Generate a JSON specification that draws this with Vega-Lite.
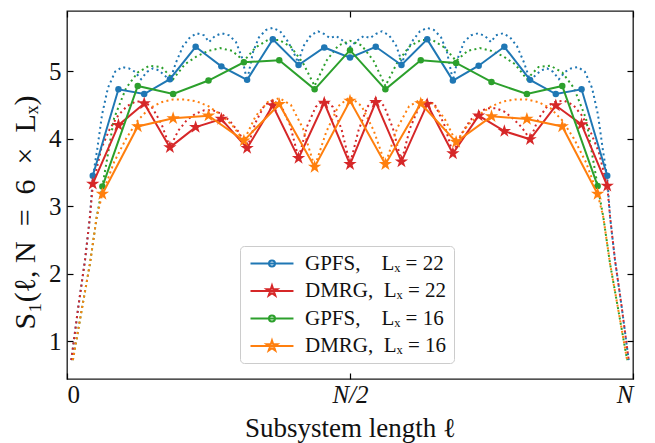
{
  "$schema": "https://vega.github.io/schema/vega-lite/v6.json",
  "width": 566,
  "height": 368,
  "autosize": "none",
  "padding": {"left": 67, "top": 11, "right": 22, "bottom": 64},
  "config": {
    "view": {"stroke": "#1a1a1a", "strokeWidth": 1.3},
    "font": "Liberation Serif",
    "axis": {
      "grid": false, "domain": false, "tickColor": "#000", "tickWidth": 1.2, "tickSize": -6,
      "labelFont": "Liberation Serif", "labelFontSize": 25, "labelColor": "#111",
      "titleFont": "Liberation Serif", "titleFontSize": 27, "titleFontWeight": "normal", "titleColor": "#111"
    }
  },
  "datasets": {
    "pts": [
      {"s": "g22", "x": 0.0455, "y": 3.45}, {"s": "g22", "x": 0.0909, "y": 4.73}, {"s": "g22", "x": 0.1364, "y": 4.66},
      {"s": "g22", "x": 0.1818, "y": 4.88}, {"s": "g22", "x": 0.2273, "y": 5.36}, {"s": "g22", "x": 0.2727, "y": 5.07},
      {"s": "g22", "x": 0.3182, "y": 4.87}, {"s": "g22", "x": 0.3636, "y": 5.47}, {"s": "g22", "x": 0.4091, "y": 5.09},
      {"s": "g22", "x": 0.4545, "y": 5.35}, {"s": "g22", "x": 0.5, "y": 5.2}, {"s": "g22", "x": 0.5455, "y": 5.36},
      {"s": "g22", "x": 0.5909, "y": 5.09}, {"s": "g22", "x": 0.6364, "y": 5.47}, {"s": "g22", "x": 0.6818, "y": 4.86},
      {"s": "g22", "x": 0.7273, "y": 5.08}, {"s": "g22", "x": 0.7727, "y": 5.36}, {"s": "g22", "x": 0.8182, "y": 4.87},
      {"s": "g22", "x": 0.8636, "y": 4.66}, {"s": "g22", "x": 0.9091, "y": 4.73}, {"s": "g22", "x": 0.9545, "y": 3.45},
      {"s": "d22", "x": 0.0455, "y": 3.33}, {"s": "d22", "x": 0.0909, "y": 4.2}, {"s": "d22", "x": 0.1364, "y": 4.52},
      {"s": "d22", "x": 0.1818, "y": 3.87}, {"s": "d22", "x": 0.2273, "y": 4.17}, {"s": "d22", "x": 0.2727, "y": 4.29},
      {"s": "d22", "x": 0.3182, "y": 3.86}, {"s": "d22", "x": 0.3636, "y": 4.49}, {"s": "d22", "x": 0.4091, "y": 3.71},
      {"s": "d22", "x": 0.4545, "y": 4.53}, {"s": "d22", "x": 0.5, "y": 3.62}, {"s": "d22", "x": 0.5455, "y": 4.54},
      {"s": "d22", "x": 0.5909, "y": 3.66}, {"s": "d22", "x": 0.6364, "y": 4.51}, {"s": "d22", "x": 0.6818, "y": 3.78},
      {"s": "d22", "x": 0.7273, "y": 4.34}, {"s": "d22", "x": 0.7727, "y": 4.11}, {"s": "d22", "x": 0.8182, "y": 3.99},
      {"s": "d22", "x": 0.8636, "y": 4.49}, {"s": "d22", "x": 0.9091, "y": 4.21}, {"s": "d22", "x": 0.9545, "y": 3.3},
      {"s": "g16", "x": 0.0625, "y": 3.29}, {"s": "g16", "x": 0.125, "y": 4.78}, {"s": "g16", "x": 0.1875, "y": 4.66},
      {"s": "g16", "x": 0.25, "y": 4.86}, {"s": "g16", "x": 0.3125, "y": 5.13}, {"s": "g16", "x": 0.375, "y": 5.16},
      {"s": "g16", "x": 0.4375, "y": 4.73}, {"s": "g16", "x": 0.5, "y": 5.31}, {"s": "g16", "x": 0.5625, "y": 4.73},
      {"s": "g16", "x": 0.625, "y": 5.16}, {"s": "g16", "x": 0.6875, "y": 5.12}, {"s": "g16", "x": 0.75, "y": 4.84},
      {"s": "g16", "x": 0.8125, "y": 4.66}, {"s": "g16", "x": 0.875, "y": 4.78}, {"s": "g16", "x": 0.9375, "y": 3.3},
      {"s": "d16", "x": 0.0625, "y": 3.18}, {"s": "d16", "x": 0.125, "y": 4.18}, {"s": "d16", "x": 0.1875, "y": 4.3},
      {"s": "d16", "x": 0.25, "y": 4.34}, {"s": "d16", "x": 0.3125, "y": 3.97}, {"s": "d16", "x": 0.375, "y": 4.51},
      {"s": "d16", "x": 0.4375, "y": 3.58}, {"s": "d16", "x": 0.5, "y": 4.56}, {"s": "d16", "x": 0.5625, "y": 3.62},
      {"s": "d16", "x": 0.625, "y": 4.52}, {"s": "d16", "x": 0.6875, "y": 3.95}, {"s": "d16", "x": 0.75, "y": 4.33},
      {"s": "d16", "x": 0.8125, "y": 4.29}, {"s": "d16", "x": 0.875, "y": 4.18}, {"s": "d16", "x": 0.9375, "y": 3.18}
    ],
    "fit": [
      {"s": "g22", "x": 0.0076, "y": 0.72}, {"s": "g22", "x": 0.02, "y": 1.51}, {"s": "g22", "x": 0.0318, "y": 2.2}, {"s": "g22", "x": 0.0405, "y": 2.84},
      {"s": "g22", "x": 0.0455, "y": 3.42}, {"s": "g22", "x": 0.0532, "y": 3.83}, {"s": "g22", "x": 0.0618, "y": 4.35}, {"s": "g22", "x": 0.0723, "y": 4.75},
      {"s": "g22", "x": 0.085, "y": 4.99}, {"s": "g22", "x": 0.0973, "y": 5.06}, {"s": "g22", "x": 0.1095, "y": 5.04}, {"s": "g22", "x": 0.12, "y": 4.99},
      {"s": "g22", "x": 0.1309, "y": 4.88}, {"s": "g22", "x": 0.1414, "y": 4.99}, {"s": "g22", "x": 0.1518, "y": 5.04}, {"s": "g22", "x": 0.1627, "y": 5.01},
      {"s": "g22", "x": 0.1732, "y": 4.93}, {"s": "g22", "x": 0.1818, "y": 4.86}, {"s": "g22", "x": 0.1927, "y": 5.13}, {"s": "g22", "x": 0.205, "y": 5.37},
      {"s": "g22", "x": 0.2173, "y": 5.5}, {"s": "g22", "x": 0.2295, "y": 5.56}, {"s": "g22", "x": 0.2423, "y": 5.53}, {"s": "g22", "x": 0.2509, "y": 5.43},
      {"s": "g22", "x": 0.2614, "y": 5.52}, {"s": "g22", "x": 0.2736, "y": 5.56}, {"s": "g22", "x": 0.2864, "y": 5.53}, {"s": "g22", "x": 0.2986, "y": 5.43},
      {"s": "g22", "x": 0.3091, "y": 5.2}, {"s": "g22", "x": 0.3182, "y": 4.86}, {"s": "g22", "x": 0.3286, "y": 5.28}, {"s": "g22", "x": 0.3391, "y": 5.5},
      {"s": "g22", "x": 0.3518, "y": 5.61}, {"s": "g22", "x": 0.3636, "y": 5.64}, {"s": "g22", "x": 0.3764, "y": 5.59}, {"s": "g22", "x": 0.3886, "y": 5.46},
      {"s": "g22", "x": 0.3991, "y": 5.3}, {"s": "g22", "x": 0.4082, "y": 5.13}, {"s": "g22", "x": 0.4186, "y": 5.38}, {"s": "g22", "x": 0.4309, "y": 5.53},
      {"s": "g22", "x": 0.4436, "y": 5.59}, {"s": "g22", "x": 0.4541, "y": 5.55}, {"s": "g22", "x": 0.4645, "y": 5.49}, {"s": "g22", "x": 0.4755, "y": 5.52},
      {"s": "g22", "x": 0.4859, "y": 5.46}, {"s": "g22", "x": 0.5, "y": 5.36}, {"s": "g22", "x": 0.5141, "y": 5.46}, {"s": "g22", "x": 0.5245, "y": 5.52},
      {"s": "g22", "x": 0.5355, "y": 5.49}, {"s": "g22", "x": 0.5459, "y": 5.55}, {"s": "g22", "x": 0.5564, "y": 5.59}, {"s": "g22", "x": 0.5691, "y": 5.53},
      {"s": "g22", "x": 0.5814, "y": 5.38}, {"s": "g22", "x": 0.5918, "y": 5.13}, {"s": "g22", "x": 0.6009, "y": 5.3}, {"s": "g22", "x": 0.6114, "y": 5.46},
      {"s": "g22", "x": 0.6236, "y": 5.59}, {"s": "g22", "x": 0.6364, "y": 5.64}, {"s": "g22", "x": 0.6482, "y": 5.61}, {"s": "g22", "x": 0.6609, "y": 5.5},
      {"s": "g22", "x": 0.6714, "y": 5.28}, {"s": "g22", "x": 0.6818, "y": 4.86}, {"s": "g22", "x": 0.6909, "y": 5.2}, {"s": "g22", "x": 0.7014, "y": 5.43},
      {"s": "g22", "x": 0.7136, "y": 5.53}, {"s": "g22", "x": 0.7264, "y": 5.56}, {"s": "g22", "x": 0.7386, "y": 5.52}, {"s": "g22", "x": 0.7491, "y": 5.43},
      {"s": "g22", "x": 0.7577, "y": 5.53}, {"s": "g22", "x": 0.7705, "y": 5.56}, {"s": "g22", "x": 0.7827, "y": 5.5}, {"s": "g22", "x": 0.795, "y": 5.37},
      {"s": "g22", "x": 0.8073, "y": 5.13}, {"s": "g22", "x": 0.8182, "y": 4.86}, {"s": "g22", "x": 0.8268, "y": 4.93}, {"s": "g22", "x": 0.8373, "y": 5.01},
      {"s": "g22", "x": 0.8482, "y": 5.04}, {"s": "g22", "x": 0.8586, "y": 4.99}, {"s": "g22", "x": 0.8691, "y": 4.88}, {"s": "g22", "x": 0.88, "y": 4.99},
      {"s": "g22", "x": 0.8905, "y": 5.04}, {"s": "g22", "x": 0.9027, "y": 5.06}, {"s": "g22", "x": 0.915, "y": 4.99}, {"s": "g22", "x": 0.9277, "y": 4.75},
      {"s": "g22", "x": 0.9382, "y": 4.35}, {"s": "g22", "x": 0.9468, "y": 3.83}, {"s": "g22", "x": 0.9545, "y": 3.42}, {"s": "g22", "x": 0.9595, "y": 2.84},
      {"s": "g22", "x": 0.9682, "y": 2.2}, {"s": "g22", "x": 0.98, "y": 1.51}, {"s": "g22", "x": 0.9924, "y": 0.72},

      {"s": "d22", "x": 0.0076, "y": 0.72}, {"s": "d22", "x": 0.02, "y": 1.51}, {"s": "d22", "x": 0.0318, "y": 2.2}, {"s": "d22", "x": 0.0405, "y": 2.84},
      {"s": "d22", "x": 0.0455, "y": 3.3}, {"s": "d22", "x": 0.0605, "y": 3.85}, {"s": "d22", "x": 0.0759, "y": 4.15}, {"s": "d22", "x": 0.0909, "y": 4.35},
      {"s": "d22", "x": 0.1059, "y": 4.48}, {"s": "d22", "x": 0.1214, "y": 4.55}, {"s": "d22", "x": 0.1364, "y": 4.55}, {"s": "d22", "x": 0.1514, "y": 4.45},
      {"s": "d22", "x": 0.1668, "y": 4.22}, {"s": "d22", "x": 0.1818, "y": 3.87}, {"s": "d22", "x": 0.1968, "y": 4.12}, {"s": "d22", "x": 0.2123, "y": 4.28},
      {"s": "d22", "x": 0.2273, "y": 4.37}, {"s": "d22", "x": 0.2423, "y": 4.42}, {"s": "d22", "x": 0.2577, "y": 4.42}, {"s": "d22", "x": 0.2727, "y": 4.37},
      {"s": "d22", "x": 0.2877, "y": 4.26}, {"s": "d22", "x": 0.3032, "y": 4.1}, {"s": "d22", "x": 0.3182, "y": 3.86}, {"s": "d22", "x": 0.3332, "y": 4.24},
      {"s": "d22", "x": 0.3486, "y": 4.49}, {"s": "d22", "x": 0.3636, "y": 4.57}, {"s": "d22", "x": 0.3786, "y": 4.48}, {"s": "d22", "x": 0.3941, "y": 4.2},
      {"s": "d22", "x": 0.4091, "y": 3.71}, {"s": "d22", "x": 0.4241, "y": 4.18}, {"s": "d22", "x": 0.4395, "y": 4.47}, {"s": "d22", "x": 0.4545, "y": 4.58},
      {"s": "d22", "x": 0.4695, "y": 4.47}, {"s": "d22", "x": 0.485, "y": 4.14}, {"s": "d22", "x": 0.5, "y": 3.62}, {"s": "d22", "x": 0.515, "y": 4.12},
      {"s": "d22", "x": 0.5305, "y": 4.47}, {"s": "d22", "x": 0.5455, "y": 4.6}, {"s": "d22", "x": 0.5605, "y": 4.48}, {"s": "d22", "x": 0.5759, "y": 4.15},
      {"s": "d22", "x": 0.5909, "y": 3.66}, {"s": "d22", "x": 0.6059, "y": 4.15}, {"s": "d22", "x": 0.6214, "y": 4.46}, {"s": "d22", "x": 0.6364, "y": 4.57},
      {"s": "d22", "x": 0.6514, "y": 4.48}, {"s": "d22", "x": 0.6668, "y": 4.2}, {"s": "d22", "x": 0.6818, "y": 3.78}, {"s": "d22", "x": 0.6968, "y": 4.07},
      {"s": "d22", "x": 0.7123, "y": 4.27}, {"s": "d22", "x": 0.7273, "y": 4.39}, {"s": "d22", "x": 0.7423, "y": 4.45}, {"s": "d22", "x": 0.7577, "y": 4.45},
      {"s": "d22", "x": 0.7727, "y": 4.4}, {"s": "d22", "x": 0.7877, "y": 4.3}, {"s": "d22", "x": 0.8032, "y": 4.17}, {"s": "d22", "x": 0.8182, "y": 3.99},
      {"s": "d22", "x": 0.8332, "y": 4.3}, {"s": "d22", "x": 0.8486, "y": 4.48}, {"s": "d22", "x": 0.8636, "y": 4.55}, {"s": "d22", "x": 0.8786, "y": 4.56},
      {"s": "d22", "x": 0.8941, "y": 4.5}, {"s": "d22", "x": 0.9091, "y": 4.35}, {"s": "d22", "x": 0.9241, "y": 4.12}, {"s": "d22", "x": 0.9395, "y": 3.8},
      {"s": "d22", "x": 0.9545, "y": 3.3}, {"s": "d22", "x": 0.9595, "y": 2.84}, {"s": "d22", "x": 0.9682, "y": 2.2}, {"s": "d22", "x": 0.98, "y": 1.51},
      {"s": "d22", "x": 0.9924, "y": 0.72},

      {"s": "g16", "x": 0.0104, "y": 0.72}, {"s": "g16", "x": 0.0259, "y": 1.46}, {"s": "g16", "x": 0.0406, "y": 2.15}, {"s": "g16", "x": 0.0525, "y": 2.84},
      {"s": "g16", "x": 0.0625, "y": 3.29}, {"s": "g16", "x": 0.0831, "y": 4.3}, {"s": "g16", "x": 0.1044, "y": 4.75}, {"s": "g16", "x": 0.125, "y": 4.98},
      {"s": "g16", "x": 0.1456, "y": 5.08}, {"s": "g16", "x": 0.1669, "y": 5.06}, {"s": "g16", "x": 0.1875, "y": 4.88}, {"s": "g16", "x": 0.2081, "y": 5.1},
      {"s": "g16", "x": 0.2294, "y": 5.22}, {"s": "g16", "x": 0.25, "y": 5.3}, {"s": "g16", "x": 0.2706, "y": 5.34}, {"s": "g16", "x": 0.2919, "y": 5.3},
      {"s": "g16", "x": 0.3125, "y": 5.15}, {"s": "g16", "x": 0.3331, "y": 5.35}, {"s": "g16", "x": 0.3544, "y": 5.46}, {"s": "g16", "x": 0.375, "y": 5.46},
      {"s": "g16", "x": 0.3956, "y": 5.36}, {"s": "g16", "x": 0.4169, "y": 5.12}, {"s": "g16", "x": 0.4375, "y": 4.78}, {"s": "g16", "x": 0.4581, "y": 5.15},
      {"s": "g16", "x": 0.4794, "y": 5.38}, {"s": "g16", "x": 0.5, "y": 5.45}, {"s": "g16", "x": 0.5206, "y": 5.38}, {"s": "g16", "x": 0.5419, "y": 5.15},
      {"s": "g16", "x": 0.5625, "y": 4.78}, {"s": "g16", "x": 0.5831, "y": 5.12}, {"s": "g16", "x": 0.6044, "y": 5.36}, {"s": "g16", "x": 0.625, "y": 5.46},
      {"s": "g16", "x": 0.6456, "y": 5.46}, {"s": "g16", "x": 0.6669, "y": 5.35}, {"s": "g16", "x": 0.6875, "y": 5.15}, {"s": "g16", "x": 0.7081, "y": 5.3},
      {"s": "g16", "x": 0.7294, "y": 5.34}, {"s": "g16", "x": 0.75, "y": 5.3}, {"s": "g16", "x": 0.7706, "y": 5.22}, {"s": "g16", "x": 0.7919, "y": 5.1},
      {"s": "g16", "x": 0.8125, "y": 4.88}, {"s": "g16", "x": 0.8331, "y": 5.06}, {"s": "g16", "x": 0.8544, "y": 5.08}, {"s": "g16", "x": 0.875, "y": 4.98},
      {"s": "g16", "x": 0.8956, "y": 4.75}, {"s": "g16", "x": 0.9169, "y": 4.3}, {"s": "g16", "x": 0.9375, "y": 3.3}, {"s": "g16", "x": 0.9475, "y": 2.84},
      {"s": "g16", "x": 0.9594, "y": 2.15}, {"s": "g16", "x": 0.9741, "y": 1.46}, {"s": "g16", "x": 0.9896, "y": 0.72},

      {"s": "d16", "x": 0.0104, "y": 0.72}, {"s": "d16", "x": 0.0259, "y": 1.46}, {"s": "d16", "x": 0.0406, "y": 2.15}, {"s": "d16", "x": 0.0525, "y": 2.84},
      {"s": "d16", "x": 0.0625, "y": 3.18}, {"s": "d16", "x": 0.0831, "y": 3.65}, {"s": "d16", "x": 0.1044, "y": 4.0}, {"s": "d16", "x": 0.125, "y": 4.27},
      {"s": "d16", "x": 0.1456, "y": 4.45}, {"s": "d16", "x": 0.1669, "y": 4.54}, {"s": "d16", "x": 0.1875, "y": 4.58}, {"s": "d16", "x": 0.2081, "y": 4.58},
      {"s": "d16", "x": 0.2294, "y": 4.55}, {"s": "d16", "x": 0.25, "y": 4.48}, {"s": "d16", "x": 0.2706, "y": 4.36}, {"s": "d16", "x": 0.2919, "y": 4.2},
      {"s": "d16", "x": 0.3125, "y": 3.97}, {"s": "d16", "x": 0.3331, "y": 4.33}, {"s": "d16", "x": 0.3544, "y": 4.54}, {"s": "d16", "x": 0.375, "y": 4.6},
      {"s": "d16", "x": 0.3956, "y": 4.5}, {"s": "d16", "x": 0.4169, "y": 4.15}, {"s": "d16", "x": 0.4375, "y": 3.58}, {"s": "d16", "x": 0.4581, "y": 4.1},
      {"s": "d16", "x": 0.4794, "y": 4.48}, {"s": "d16", "x": 0.5, "y": 4.62}, {"s": "d16", "x": 0.5206, "y": 4.48}, {"s": "d16", "x": 0.5419, "y": 4.12},
      {"s": "d16", "x": 0.5625, "y": 3.62}, {"s": "d16", "x": 0.5831, "y": 4.15}, {"s": "d16", "x": 0.6044, "y": 4.48}, {"s": "d16", "x": 0.625, "y": 4.58},
      {"s": "d16", "x": 0.6456, "y": 4.52}, {"s": "d16", "x": 0.6669, "y": 4.3}, {"s": "d16", "x": 0.6875, "y": 3.95}, {"s": "d16", "x": 0.7081, "y": 4.2},
      {"s": "d16", "x": 0.7294, "y": 4.36}, {"s": "d16", "x": 0.75, "y": 4.48}, {"s": "d16", "x": 0.7706, "y": 4.55}, {"s": "d16", "x": 0.7919, "y": 4.58},
      {"s": "d16", "x": 0.8125, "y": 4.58}, {"s": "d16", "x": 0.8331, "y": 4.54}, {"s": "d16", "x": 0.8544, "y": 4.45}, {"s": "d16", "x": 0.875, "y": 4.27},
      {"s": "d16", "x": 0.8956, "y": 4.0}, {"s": "d16", "x": 0.9169, "y": 3.65}, {"s": "d16", "x": 0.9375, "y": 3.18}, {"s": "d16", "x": 0.9475, "y": 2.84},
      {"s": "d16", "x": 0.9594, "y": 2.15}, {"s": "d16", "x": 0.9741, "y": 1.46}, {"s": "d16", "x": 0.9896, "y": 0.72}
    ]
  },
  "encoding": {
    "x": {"field": "x", "type": "quantitative", "scale": {"domain": [0, 1], "nice": false, "zero": false}, "axis": null},
    "y": {"field": "y", "type": "quantitative", "scale": {"domain": [0.44, 5.89], "nice": false, "zero": false}, "axis": null}
  },
  "layer": [
    {
      "data": {"name": "pts"},
      "transform": [{"filter": "false"}],
      "mark": {"type": "point", "opacity": 0},
      "encoding": {
        "x": {"field": "x", "type": "quantitative", "scale": {"domain": [0, 1], "nice": false, "zero": false},
          "axis": {"orient": "bottom", "values": [0, 0.5, 1], "labelExpr": "datum.value == 0 ? '0' : datum.value == 0.5 ? 'N/2' : 'N'",
            "labelFontStyle": {"condition": {"test": "datum.value == 0", "value": "normal"}, "value": "italic"},
            "labelPadding": 9, "title": "Subsystem length ℓ", "titlePadding": 8}},
        "y": {"field": "y", "type": "quantitative", "scale": {"domain": [0.44, 5.89], "nice": false, "zero": false},
          "axis": {"orient": "left", "values": [1, 2, 3, 4, 5], "labelPadding": 12, "title": "S₁(ℓ, N\u2002=\u20026\u2002×\u2002Lₓ)", "titleFontSize": 30, "titlePadding": 8, "titleY": 201}},
        "fill": {"field": "s", "type": "nominal", "scale": {"domain": ["g22", "d22", "g16", "d16"], "range": ["#1f77b4", "#d62728", "#2ca02c", "#ff7f0e"]},
          "legend": {"orient": "none", "legendX": 173, "legendY": 235, "title": null, "symbolSize": 196, "symbolStrokeWidth": 2,
            "labelFontSize": 21, "labelFont": "Liberation Serif", "labelColor": "#111", "labelOffset": 37, "rowPadding": 5.5, "padding": 7,
            "strokeColor": "#cccccc", "cornerRadius": 4, "fillColor": "rgba(255,255,255,0.85)",
            "labelExpr": "datum.value == 'g22' ? 'GPFS,\u2003Lₓ = 22' : datum.value == 'd22' ? 'DMRG,\u2002Lₓ = 22' : datum.value == 'g16' ? 'GPFS,\u2003Lₓ = 16' : 'DMRG,\u2002Lₓ = 16'"}},
        "stroke": {"field": "s", "type": "nominal", "scale": {"domain": ["g22", "d22", "g16", "d16"], "range": ["#1f77b4", "#d62728", "#2ca02c", "#ff7f0e"]},
          "legend": {"orient": "none", "legendX": 173, "legendY": 235, "title": null, "symbolSize": 196, "symbolStrokeWidth": 2,
            "labelFontSize": 21, "labelFont": "Liberation Serif", "labelColor": "#111", "labelOffset": 37, "rowPadding": 5.5, "padding": 7,
            "strokeColor": "#cccccc", "cornerRadius": 4, "fillColor": "rgba(255,255,255,0.85)",
            "labelExpr": "datum.value == 'g22' ? 'GPFS,\u2003Lₓ = 22' : datum.value == 'd22' ? 'DMRG,\u2002Lₓ = 22' : datum.value == 'g16' ? 'GPFS,\u2003Lₓ = 16' : 'DMRG,\u2002Lₓ = 16'"}},
        "shape": {"field": "s", "type": "nominal", "scale": {"domain": ["g22", "d22", "g16", "d16"], "range": [
            "M-1,0L5.14,0M1.64,0A0.43,0.43,0,1,0,2.5,0A0.43,0.43,0,1,0,1.64,0Z",
            "M-1,0L5.14,0M2.07,-0.79L2.2474,-0.2441L2.8214,-0.2441L2.357,0.0932L2.5344,0.6391L2.07,0.3018L1.6056,0.6391L1.783,0.0932L1.3186,-0.2441L1.8926,-0.2441Z",
            "M-1,0L5.14,0M1.64,0A0.43,0.43,0,1,0,2.5,0A0.43,0.43,0,1,0,1.64,0Z",
            "M-1,0L5.14,0M2.07,-0.79L2.2474,-0.2441L2.8214,-0.2441L2.357,0.0932L2.5344,0.6391L2.07,0.3018L1.6056,0.6391L1.783,0.0932L1.3186,-0.2441L1.8926,-0.2441Z"]},
          "legend": {"orient": "none", "legendX": 173, "legendY": 235, "title": null, "symbolSize": 196, "symbolStrokeWidth": 2,
            "labelFontSize": 21, "labelFont": "Liberation Serif", "labelColor": "#111", "labelOffset": 37, "rowPadding": 5.5, "padding": 7,
            "strokeColor": "#cccccc", "cornerRadius": 4, "fillColor": "rgba(255,255,255,0.85)",
            "labelExpr": "datum.value == 'g22' ? 'GPFS,\u2003Lₓ = 22' : datum.value == 'd22' ? 'DMRG,\u2002Lₓ = 22' : datum.value == 'g16' ? 'GPFS,\u2003Lₓ = 16' : 'DMRG,\u2002Lₓ = 16'"}}
      }
    },
    {
      "data": {"name": "pts"},
      "transform": [{"filter": "false"}],
      "mark": {"type": "point", "opacity": 0},
      "encoding": {
        "x": {"field": "x", "type": "quantitative", "scale": {"domain": [0, 1], "nice": false, "zero": false},
          "axis": {"orient": "top", "values": [0, 0.5, 1], "labels": false, "title": null}},
        "y": {"field": "y", "type": "quantitative", "scale": {"domain": [0.44, 5.89], "nice": false, "zero": false},
          "axis": {"orient": "right", "values": [1, 2, 3, 4, 5], "labels": false, "title": null}}
      }
    },
    {
      "data": {"name": "fit"},
      "transform": [{"filter": "datum.s == 'g22'"}],
      "mark": {"type": "line", "color": "#1f77b4", "strokeWidth": 2, "strokeDash": [2, 3.3]}
    },
    {
      "data": {"name": "fit"},
      "transform": [{"filter": "datum.s == 'd22'"}],
      "mark": {"type": "line", "color": "#d62728", "strokeWidth": 2, "strokeDash": [2, 3.3]}
    },
    {
      "data": {"name": "fit"},
      "transform": [{"filter": "datum.s == 'g16'"}],
      "mark": {"type": "line", "color": "#2ca02c", "strokeWidth": 2, "strokeDash": [2, 3.3]}
    },
    {
      "data": {"name": "fit"},
      "transform": [{"filter": "datum.s == 'd16'"}],
      "mark": {"type": "line", "color": "#ff7f0e", "strokeWidth": 2, "strokeDash": [2, 3.3]}
    },
    {
      "data": {"name": "pts"},
      "transform": [{"filter": "datum.s == 'g22'"}],
      "layer": [
        {"mark": {"type": "line", "color": "#1f77b4", "strokeWidth": 2}},
        {"mark": {"type": "point", "filled": true, "shape": "circle", "size": 42, "color": "#1f77b4", "opacity": 1}}
      ]
    },
    {
      "data": {"name": "pts"},
      "transform": [{"filter": "datum.s == 'd22'"}],
      "layer": [
        {"mark": {"type": "line", "color": "#d62728", "strokeWidth": 2}},
        {"mark": {"type": "point", "filled": true, "shape": "M0,-1L0.2245,-0.309L0.9511,-0.309L0.3633,0.118L0.5878,0.809L0,0.382L-0.5878,0.809L-0.3633,0.118L-0.9511,-0.309L-0.2245,-0.309Z", "size": 196, "color": "#d62728", "opacity": 1}}
      ]
    },
    {
      "data": {"name": "pts"},
      "transform": [{"filter": "datum.s == 'g16'"}],
      "layer": [
        {"mark": {"type": "line", "color": "#2ca02c", "strokeWidth": 2}},
        {"mark": {"type": "point", "filled": true, "shape": "circle", "size": 42, "color": "#2ca02c", "opacity": 1}}
      ]
    },
    {
      "data": {"name": "pts"},
      "transform": [{"filter": "datum.s == 'd16'"}],
      "layer": [
        {"mark": {"type": "line", "color": "#ff7f0e", "strokeWidth": 2}},
        {"mark": {"type": "point", "filled": true, "shape": "M0,-1L0.2245,-0.309L0.9511,-0.309L0.3633,0.118L0.5878,0.809L0,0.382L-0.5878,0.809L-0.3633,0.118L-0.9511,-0.309L-0.2245,-0.309Z", "size": 196, "color": "#ff7f0e", "opacity": 1}}
      ]
    }
  ],
  "resolve": {"axis": {"x": "independent", "y": "independent"}}
}
